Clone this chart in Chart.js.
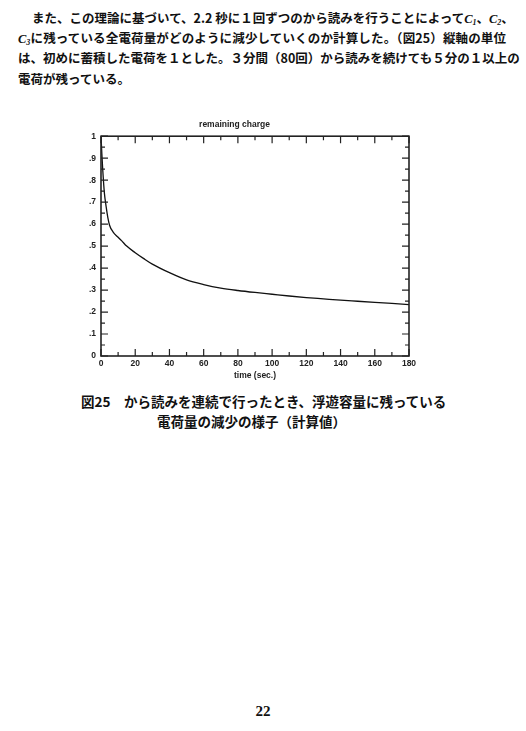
<!DOCTYPE html>
<html lang="ja">
<head>
<meta charset="utf-8">
<script src="https://cdn.jsdelivr.net/npm/chart.js@4.4.1/dist/chart.umd.min.js"></script>
<style>
    html, body { margin: 0; padding: 0; background: #fff; }
    body { width: 526px; height: 731px; position: relative; overflow: hidden; color: #111; }
    .para { position: absolute; left: 18px; width: 488px; font-family: "Noto Sans CJK JP", sans-serif; font-weight: 700;
            font-size: 12.5px; line-height: 14px; white-space: nowrap; text-align: justify; text-align-last: justify; }
    .para i { font-family: "Liberation Serif", serif; font-weight: 700; }
    .para sub { font-size: 8px; vertical-align: -2px; line-height: 0; }
    .cap { position: absolute; font-family: "Noto Sans CJK JP", sans-serif; font-weight: 700; font-size: 13.5px; white-space: nowrap; }
    #page { position: absolute; left: 0; width: 526px; top: 703px; text-align: center;
            font-family: "Liberation Serif", serif; font-weight: 700; font-size: 15px; }
    #wrap { position: absolute; left: 60px; top: 112px; width: 370px; height: 269px; }
</style>
</head>
<body>
<div class="para" style="top:11px; left:32px; width:461px;">また、この理論に基づいて、2.2 秒に１回ずつのから読みを行うことによって<i>C<sub>1</sub></i>、<i>C<sub>2</sub></i>、</div>
<div class="para" style="top:31px;"><i>C<sub>3</sub></i>に残っている全電荷量がどのように減少していくのか計算した。（図25）縦軸の単位</div>
<div class="para" style="top:51px;">は、初めに蓄積した電荷を１とした。３分間（80回）から読みを続けても５分の１以上の</div>
<div class="para" style="top:72px; width:auto; text-align-last:auto;">電荷が残っている。</div>

<div id="wrap"><canvas id="chart"></canvas></div>

<div class="cap" style="left:81px; top:391px; width:344px; text-align:justify; text-align-last:justify;">図25　から読みを連続で行ったとき、浮遊容量に残っている</div>
<div class="cap" style="left:157px; top:411px;">電荷量の減少の様子（計算値）</div>

<div id="page">22</div>

<script>
// time (sec.) and remaining charge
const times = [0, 0.5, 1, 2, 3, 4, 5, 7, 10, 12, 15, 20, 25, 30, 40, 50, 60, 70, 80, 90, 100, 110, 120, 130, 140, 150, 160, 170, 180];
const charges = [1.0, 0.92, 0.85, 0.74, 0.68, 0.63, 0.595, 0.565, 0.54, 0.525, 0.5, 0.47, 0.443, 0.418, 0.379, 0.346, 0.325, 0.309, 0.298, 0.289, 0.281, 0.273, 0.266, 0.26, 0.254, 0.249, 0.244, 0.239, 0.234];
const yTickLabels = ['0', '.1', '.2', '.3', '.4', '.5', '.6', '.7', '.8', '.9', '1'];

const axisFont = { family: '"Liberation Sans", Arial, sans-serif', size: 8.5, weight: 'bold' };

// framed box with inward ticks on all four sides
const boxTicks = {
    id: 'boxTicks',
    afterDraw(chart) {
        const { ctx, chartArea: a, scales: { x, y } } = chart;
        ctx.save();
        ctx.strokeStyle = '#222';
        ctx.lineWidth = 1.6;
        ctx.strokeRect(a.left, a.top, a.right - a.left, a.bottom - a.top);
        ctx.lineWidth = 1.2;
        ctx.beginPath();
        for (let t = 0; t <= 180; t += 10) {
            const px = x.getPixelForValue(t);
            const len = t % 20 === 0 ? 7 : 4;
            ctx.moveTo(px, a.bottom); ctx.lineTo(px, a.bottom - len);
            ctx.moveTo(px, a.top); ctx.lineTo(px, a.top + len);
        }
        for (let i = 0; i <= 20; i++) {
            const py = y.getPixelForValue(i * 0.05);
            const len = i % 2 === 0 ? 7 : 4;
            ctx.moveTo(a.left, py); ctx.lineTo(a.left + len, py);
            ctx.moveTo(a.right, py); ctx.lineTo(a.right - len, py);
        }
        ctx.stroke();
        ctx.restore();
    }
};

new Chart(document.getElementById('chart'), {
    type: 'line',
    data: {
        datasets: [{
            label: 'remaining charge',
            data: times.map((t, i) => ({ x: t, y: charges[i] })),
            borderColor: '#111',
            borderWidth: 1.3,
            pointRadius: 0,
            cubicInterpolationMode: 'monotone',
            fill: false
        }]
    },
    options: {
        responsive: true,
        maintainAspectRatio: false,
        animation: false,
        layout: { padding: { left: 0, right: 21, top: 0, bottom: 0 } },
        plugins: {
            legend: { display: false },
            tooltip: { enabled: false },
            title: {
                display: true,
                text: 'remaining charge',
                color: '#222',
                font: axisFont,
                padding: { top: 8, bottom: 6 }
            }
        },
        scales: {
            x: {
                type: 'linear',
                min: 0,
                max: 180,
                grid: { display: false, drawTicks: false },
                border: { display: false },
                ticks: { stepSize: 20, color: '#222', font: axisFont, padding: 3, maxRotation: 0 },
                title: { display: true, text: 'time (sec.)', color: '#222', font: axisFont, padding: { top: 2, bottom: 0 } },
                afterFit(scale) { scale.height = 25; }
            },
            y: {
                min: 0,
                max: 1,
                grid: { display: false, drawTicks: false },
                border: { display: false },
                ticks: {
                    stepSize: 0.1,
                    color: '#222',
                    font: axisFont,
                    padding: 5,
                    callback: (v, i) => yTickLabels[i]
                },
                afterFit(scale) { scale.width = 41; }
            }
        }
    },
    plugins: [boxTicks]
});
</script>
</body>
</html>
